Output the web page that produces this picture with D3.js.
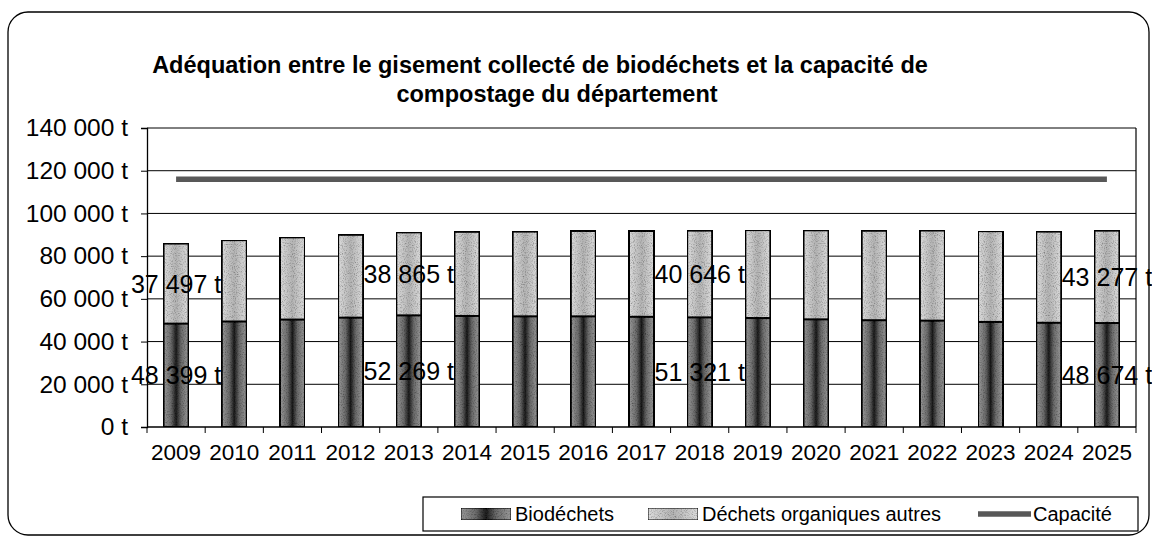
<!DOCTYPE html>
<html lang="fr">
<head>
<meta charset="utf-8">
<title>Adéquation gisement / capacité de compostage</title>
<script src="https://cdn.jsdelivr.net/npm/d3@7/dist/d3.min.js"></script>
<style>
  html, body { margin: 0; padding: 0; background: #fff; }
  svg { display: block; font-family: Arial, "Liberation Sans", sans-serif; }
</style>
</head>
<body>
<svg id="chart" width="1152" height="538"></svg>
<script>
// Tonnages par année (t)
const years = ["2009","2010","2011","2012","2013","2014","2015","2016","2017",
               "2018","2019","2020","2021","2022","2023","2024","2025"];
const biodechets = [48399, 49400, 50300, 51200, 52269, 52000, 51800, 51800, 51600,
                    51321, 51000, 50400, 50000, 49800, 49200, 48800, 48674];
const autres = [37497, 38100, 38500, 38800, 38865, 39400, 39700, 40000, 40200,
                40646, 41200, 41700, 41900, 42200, 42500, 42700, 43277];
const capacite = [116000, 116000, 116000, 116000, 116000, 116000, 116000, 116000, 116000,
                  116000, 116000, 116000, 116000, 116000, 116000, 116000, 116000];
const yTicks = [0, 20000, 40000, 60000, 80000, 100000, 120000, 140000];
// Années dont les valeurs sont étiquetées
const labelledYears = ["2009", "2013", "2018", "2025"];
const seriesNames = ["Biodéchets", "Déchets organiques autres", "Capacité"];

const fr = d3.formatLocale({ decimal: ",", thousands: " ", grouping: [3], currency: ["", " €"] });
const fmt = v => fr.format(",.0f")(v) + " t";

const svg = d3.select("#chart");
const pLeft = 147, pRight = 1136, pTop = 128, pBottom = 427;

const x = d3.scaleBand().domain(years).range([pLeft, pRight])
  .paddingInner(0.57).paddingOuter(0.285);
const y = d3.scaleLinear().domain([0, 140000]).range([pBottom, pTop]);

const defs = svg.append("defs");
// Remplissage des barres : dégradé horizontal, plus sombre au centre
const gBio = defs.append("linearGradient").attr("id", "gBio").attr("x1", 0).attr("x2", 1);
[[0, "#9a9a9a"], [0.3, "#6a6a6a"], [0.5, "#1c1c1c"], [0.7, "#6a6a6a"], [1, "#9a9a9a"]]
  .forEach(([o, c]) => gBio.append("stop").attr("offset", o).attr("stop-color", c));
const gAut = defs.append("linearGradient").attr("id", "gAut").attr("x1", 0).attr("x2", 1);
[[0, "#dcdcdc"], [0.5, "#b4b4b4"], [1, "#dcdcdc"]]
  .forEach(([o, c]) => gAut.append("stop").attr("offset", o).attr("stop-color", c));
// Grain léger sur les aplats
const grain = defs.append("filter").attr("id", "grain").attr("x", 0).attr("y", 0)
  .attr("width", 1).attr("height", 1);
grain.append("feTurbulence").attr("type", "fractalNoise").attr("baseFrequency", 0.9)
  .attr("numOctaves", 2).attr("seed", 3).attr("result", "noise");
grain.append("feColorMatrix").attr("in", "noise").attr("type", "matrix")
  .attr("values", "0 0 0 0 0  0 0 0 0 0  0 0 0 0 0  0 0 0 -1.4 0.75").attr("result", "dots");
grain.append("feComposite").attr("in", "dots").attr("in2", "SourceGraphic").attr("operator", "in").attr("result", "dotsIn");
grain.append("feMerge").selectAll("feMergeNode").data(["SourceGraphic", "dotsIn"]).join("feMergeNode").attr("in", d => d);

// Cadre extérieur arrondi
svg.append("rect").attr("x", 8).attr("y", 12).attr("width", 1141).attr("height", 523)
  .attr("rx", 20).attr("fill", "none").attr("stroke", "#000").attr("stroke-width", 1.3);

// Titre
const title = svg.append("text").attr("text-anchor", "middle").attr("font-weight", "bold")
  .attr("font-size", 23.5).attr("fill", "#000");
title.append("tspan").attr("x", 540).attr("y", 73)
  .text("Adéquation entre le gisement collecté de biodéchets et la capacité de");
title.append("tspan").attr("x", 557).attr("y", 102).text("compostage du département");

// Grille horizontale
svg.append("g").selectAll("line").data(yTicks.filter(d => d > 0)).join("line")
  .attr("x1", pLeft).attr("x2", pRight).attr("y1", d => y(d)).attr("y2", d => y(d))
  .attr("stroke", "#000").attr("stroke-width", 1);
// Bord droit de la zone de tracé
svg.append("line").attr("x1", pRight).attr("x2", pRight).attr("y1", pTop).attr("y2", pBottom)
  .attr("stroke", "#000").attr("stroke-width", 1.2);

// Axe vertical
const yAxis = svg.append("g").attr("transform", `translate(${pLeft},0)`)
  .call(d3.axisLeft(y).tickValues(yTicks).tickFormat(fmt).tickSize(6).tickPadding(13));
yAxis.select(".domain").attr("stroke-width", 1.3);
yAxis.selectAll("text").attr("font-size", 24.5).attr("fill", "#000")
  .attr("font-family", "Arial, 'Liberation Sans', sans-serif");

// Axe horizontal : graduations entre les catégories
const step = x.step();
const boundaries = d3.range(years.length + 1).map(i => pLeft + i * step);
const xAxis = svg.append("g");
xAxis.append("line").attr("x1", pLeft).attr("x2", pRight).attr("y1", pBottom).attr("y2", pBottom)
  .attr("stroke", "#000").attr("stroke-width", 1.3);
xAxis.selectAll("line.tk").data(boundaries).join("line").attr("class", "tk")
  .attr("x1", d => d).attr("x2", d => d).attr("y1", pBottom).attr("y2", pBottom + 6)
  .attr("stroke", "#000");
xAxis.selectAll("text").data(years).join("text")
  .attr("x", d => x(d) + x.bandwidth() / 2).attr("y", pBottom + 33)
  .attr("text-anchor", "middle").attr("font-size", 22.5).attr("fill", "#000").text(d => d);

// Barres empilées
const stacked = years.map((yr, i) => ({ year: yr, bio: biodechets[i], aut: autres[i] }));
const bars = svg.append("g");
bars.selectAll("rect.bio").data(stacked).join("rect").attr("class", "bio")
  .attr("x", d => x(d.year)).attr("width", x.bandwidth())
  .attr("y", d => y(d.bio)).attr("height", d => y(0) - y(d.bio))
  .attr("fill", "url(#gBio)").attr("filter", "url(#grain)")
  .attr("stroke", "#000").attr("stroke-width", 2);
bars.selectAll("rect.aut").data(stacked).join("rect").attr("class", "aut")
  .attr("x", d => x(d.year)).attr("width", x.bandwidth())
  .attr("y", d => y(d.bio + d.aut)).attr("height", d => y(d.bio) - y(d.bio + d.aut))
  .attr("fill", "url(#gAut)").attr("filter", "url(#grain)")
  .attr("stroke", "#000").attr("stroke-width", 2);

// Courbe de capacité
const line = d3.line().x((d, i) => x(years[i]) + x.bandwidth() / 2).y(d => y(d));
svg.append("path").datum(capacite).attr("d", line)
  .attr("fill", "none").attr("stroke", "#585858").attr("stroke-width", 5.5);

// Étiquettes de valeurs
const labels = svg.append("g").attr("font-size", 25).attr("fill", "#000").attr("text-anchor", "middle");
stacked.filter(d => labelledYears.includes(d.year)).forEach(d => {
  const cx = x(d.year) + x.bandwidth() / 2;
  labels.append("text").attr("x", cx).attr("y", (y(0) + y(d.bio)) / 2)
    .attr("dominant-baseline", "central").text(fmt(d.bio));
  labels.append("text").attr("x", cx).attr("y", (y(d.bio) + y(d.bio + d.aut)) / 2)
    .attr("dominant-baseline", "central").text(fmt(d.aut));
});

// Légende
const lg = svg.append("g").attr("font-size", 20).attr("fill", "#000");
lg.append("rect").attr("x", 423).attr("y", 497).attr("width", 715).attr("height", 34)
  .attr("fill", "#fff").attr("stroke", "#000").attr("stroke-width", 1.2);
const ly = 514;
lg.append("rect").attr("x", 461).attr("y", ly - 6).attr("width", 50).attr("height", 12)
  .attr("fill", "url(#gBio)").attr("filter", "url(#grain)").attr("stroke", "#000");
lg.append("text").attr("x", 515).attr("y", ly).attr("dominant-baseline", "central").text(seriesNames[0]);
lg.append("rect").attr("x", 648).attr("y", ly - 6).attr("width", 50).attr("height", 12)
  .attr("fill", "url(#gAut)").attr("filter", "url(#grain)").attr("stroke", "#000");
lg.append("text").attr("x", 702).attr("y", ly).attr("dominant-baseline", "central").text(seriesNames[1]);
lg.append("line").attr("x1", 978).attr("x2", 1031).attr("y1", ly).attr("y2", ly)
  .attr("stroke", "#585858").attr("stroke-width", 5.5);
lg.append("text").attr("x", 1033).attr("y", ly).attr("dominant-baseline", "central").text(seriesNames[2]);
</script>
</body>
</html>
